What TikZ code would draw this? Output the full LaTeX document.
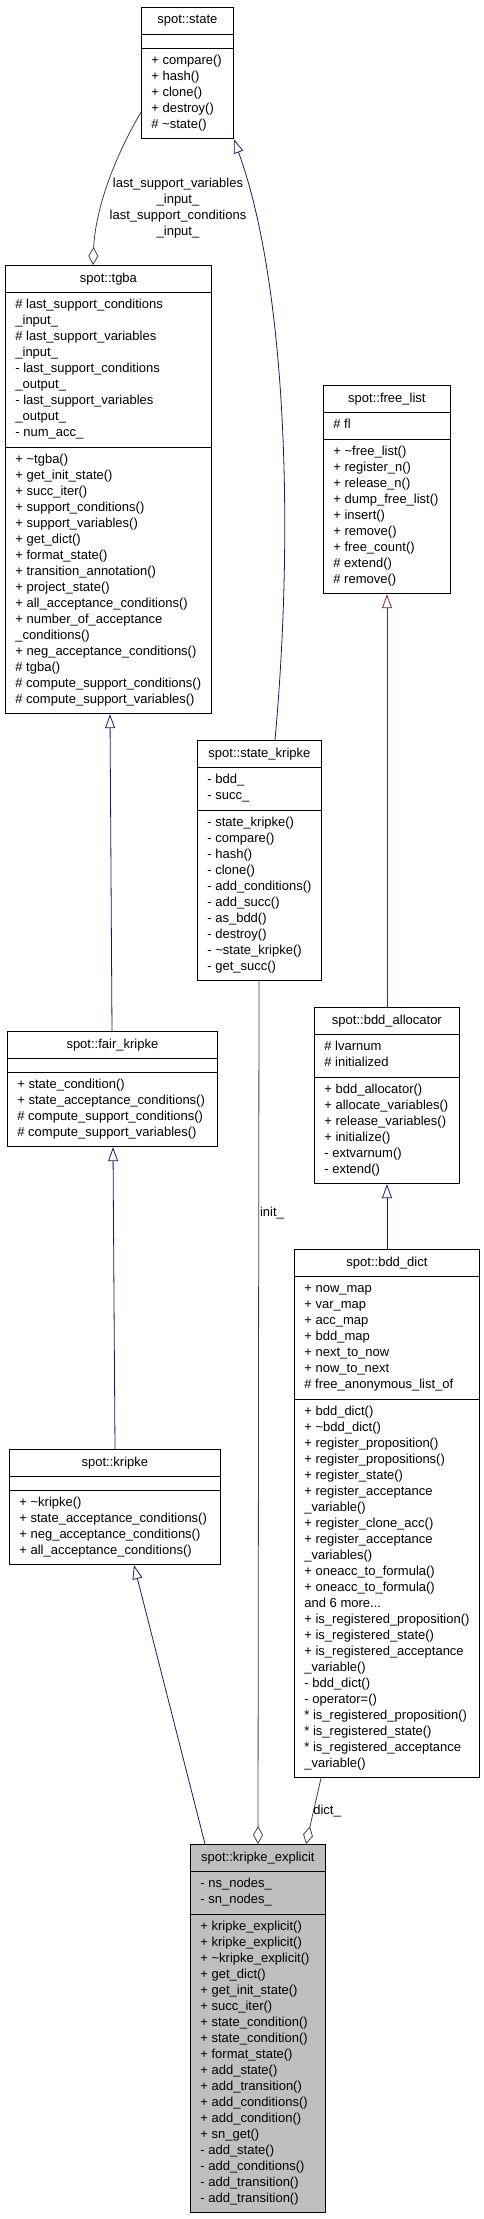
\documentclass[tikz,border=0pt]{standalone}
\usepackage{fontspec}
\setmainfont{Liberation Sans}
\usetikzlibrary{shapes.multipart,arrows.meta}

\definecolor{inhblue}{RGB}{25,25,112}
\definecolor{inhred}{RGB}{139,26,26}
\definecolor{aggrgray}{RGB}{64,64,64}
\definecolor{mainfill}{RGB}{191,191,191}
\newcommand\mlist[1]{\begin{tabular}{@{}l@{}}#1\end{tabular}}

\begin{document}
\begin{tikzpicture}[x=1pt, y=-1pt,
  umlclass/.style={rectangle split, rectangle split parts=3,
    rectangle split part align={center,left,left}, draw=black, line width=0.8pt,
    fill=white, anchor=north west, inner xsep=10pt, inner ysep=5pt,
    font=\fontsize{13}{16}\selectfont},
  inherit/.style={draw=#1, line width=0.8pt, -{Triangle[open, length=14pt, width=10pt]}},
  inherit/.default=inhblue,
  aggr/.style={draw=aggrgray, line width=0.8pt, -{Diamond[open, length=18pt, width=10pt]}},
  lbl/.style={font=\fontsize{13}{16}\selectfont, align=center, inner sep=0pt}]
\useasboundingbox (0,0) rectangle (484,2219);

\node[umlclass, minimum width=92pt] (state) at (141,7) {\mlist{spot::state}
  \nodepart{second}\mlist{}
  \nodepart{third}\mlist{+ compare()\\+ hash()\\+ clone()\\+ destroy()\\\# \textasciitilde state()}};
\node[umlclass, minimum width=206pt] (tgba) at (5,265) {\mlist{spot::tgba}
  \nodepart{second}\mlist{\# last\_support\_conditions\\\_input\_\\\# last\_support\_variables\\\_input\_\\- last\_support\_conditions\\\_output\_\\- last\_support\_variables\\\_output\_\\- num\_acc\_}
  \nodepart{third}\mlist{+ \textasciitilde tgba()\\+ get\_init\_state()\\+ succ\_iter()\\+ support\_conditions()\\+ support\_variables()\\+ get\_dict()\\+ format\_state()\\+ transition\_annotation()\\+ project\_state()\\+ all\_acceptance\_conditions()\\+ number\_of\_acceptance\\\_conditions()\\+ neg\_acceptance\_conditions()\\\# tgba()\\\# compute\_support\_conditions()\\\# compute\_support\_variables()}};
\node[umlclass, minimum width=127pt] (free_list) at (323,385) {\mlist{spot::free\_list}
  \nodepart{second}\mlist{\# fl}
  \nodepart{third}\mlist{+ \textasciitilde free\_list()\\+ register\_n()\\+ release\_n()\\+ dump\_free\_list()\\+ insert()\\+ remove()\\+ free\_count()\\\# extend()\\\# remove()}};
\node[umlclass, minimum width=124pt] (state_kripke) at (197,740) {\mlist{spot::state\_kripke}
  \nodepart{second}\mlist{- bdd\_\\- succ\_}
  \nodepart{third}\mlist{- state\_kripke()\\- compare()\\- hash()\\- clone()\\- add\_conditions()\\- add\_succ()\\- as\_bdd()\\- destroy()\\- \textasciitilde state\_kripke()\\- get\_succ()}};
\node[umlclass, minimum width=145pt] (bdd_allocator) at (314,1007) {\mlist{spot::bdd\_allocator}
  \nodepart{second}\mlist{\# lvarnum\\\# initialized}
  \nodepart{third}\mlist{+ bdd\_allocator()\\+ allocate\_variables()\\+ release\_variables()\\+ initialize()\\- extvarnum()\\- extend()}};
\node[umlclass, minimum width=210pt] (fair_kripke) at (7,1031) {\mlist{spot::fair\_kripke}
  \nodepart{second}\mlist{}
  \nodepart{third}\mlist{+ state\_condition()\\+ state\_acceptance\_conditions()\\\# compute\_support\_conditions()\\\# compute\_support\_variables()}};
\node[umlclass, minimum width=185pt] (bdd_dict) at (294,1249) {\mlist{spot::bdd\_dict}
  \nodepart{second}\mlist{+ now\_map\\+ var\_map\\+ acc\_map\\+ bdd\_map\\+ next\_to\_now\\+ now\_to\_next\\\# free\_anonymous\_list\_of}
  \nodepart{third}\mlist{+ bdd\_dict()\\+ \textasciitilde bdd\_dict()\\+ register\_proposition()\\+ register\_propositions()\\+ register\_state()\\+ register\_acceptance\\\_variable()\\+ register\_clone\_acc()\\+ register\_acceptance\\\_variables()\\+ oneacc\_to\_formula()\\+ oneacc\_to\_formula()\\and 6 more...\\+ is\_registered\_proposition()\\+ is\_registered\_state()\\+ is\_registered\_acceptance\\\_variable()\\- bdd\_dict()\\- operator=()\\{*} is\_registered\_proposition()\\{*} is\_registered\_state()\\{*} is\_registered\_acceptance\\\_variable()}};
\node[umlclass, minimum width=211pt] (kripke) at (9,1449) {\mlist{spot::kripke}
  \nodepart{second}\mlist{}
  \nodepart{third}\mlist{+ \textasciitilde kripke()\\+ state\_acceptance\_conditions()\\+ neg\_acceptance\_conditions()\\+ all\_acceptance\_conditions()}};
\node[umlclass, minimum width=135pt, fill=mainfill] (kripke_explicit) at (190,1844) {\mlist{spot::kripke\_explicit}
  \nodepart{second}\mlist{- ns\_nodes\_\\- sn\_nodes\_}
  \nodepart{third}\mlist{+ kripke\_explicit()\\+ kripke\_explicit()\\+ \textasciitilde kripke\_explicit()\\+ get\_dict()\\+ get\_init\_state()\\+ succ\_iter()\\+ state\_condition()\\+ state\_condition()\\+ format\_state()\\+ add\_state()\\+ add\_transition()\\+ add\_conditions()\\+ add\_condition()\\+ sn\_get()\\- add\_state()\\- add\_conditions()\\- add\_transition()\\- add\_transition()}};

% inheritance
\draw[inherit] ([xshift=78pt]state_kripke.north west) .. controls (295,520) and (285,280) .. (state.south east);
\draw[inherit] ([xshift=105pt]fair_kripke.north west) -- ([xshift=105pt]tgba.south west);
\draw[inherit] ([xshift=106pt]kripke.north west) -- ([xshift=106pt]fair_kripke.south west);
\draw[inherit] ([xshift=15pt]kripke_explicit.north west) -- ([xshift=125pt]kripke.south west);
\draw[inherit=inhred] ([xshift=73pt]bdd_allocator.north west) -- ([xshift=64pt]free_list.south west);
\draw[inherit] ([xshift=93pt]bdd_dict.north west) -- ([xshift=73pt]bdd_allocator.south west);

% aggregation
\draw[aggr] ([yshift=27pt]state.south west) .. controls (110,165) and (95,215) .. ([xshift=88pt]tgba.north west);
\node[lbl] (lbl_support) at (178,208) {last\_support\_variables\\\_input\_\\last\_support\_conditions\\\_input\_};
\draw[aggr] ([xshift=62pt]state_kripke.south west) -- ([xshift=68pt]kripke_explicit.north west);
\node[lbl] (lbl_init) at (272,1213) {init\_};
\draw[aggr] ([xshift=27pt]bdd_dict.south west) -- ([xshift=116pt]kripke_explicit.north west);
\node[lbl] (lbl_dict) at (327,1811) {dict\_};
\end{tikzpicture}
\end{document}
